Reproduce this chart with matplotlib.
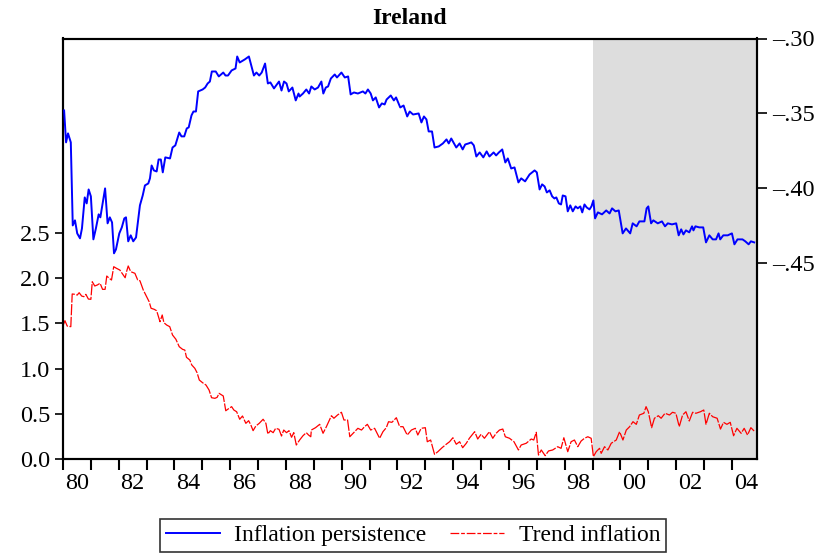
import matplotlib
matplotlib.use("Agg")
import matplotlib.pyplot as plt
from matplotlib.lines import Line2D
from matplotlib.ticker import FixedLocator, NullFormatter, FixedFormatter

plt.rcParams['font.family'] = ['Liberation Serif', 'DejaVu Serif']

# --- data ---
# Inflation persistence (right axis)
persistence_year = [
    1980.04, 1980.11, 1980.18, 1980.28, 1980.35, 1980.43, 1980.51, 1980.61, 1980.68, 1980.78,
    1980.85, 1980.92, 1981.00, 1981.09, 1981.18, 1981.28, 1981.34, 1981.42, 1981.51, 1981.60,
    1981.68, 1981.76, 1981.83, 1981.90, 1982.02, 1982.11, 1982.20, 1982.26, 1982.34, 1982.43,
    1982.52, 1982.62, 1982.76, 1982.86, 1982.94, 1983.06, 1983.12, 1983.18, 1983.26, 1983.36,
    1983.43, 1983.51, 1983.58, 1983.67, 1983.84, 1983.93, 1984.03, 1984.17, 1984.25, 1984.35,
    1984.44, 1984.51, 1984.61, 1984.68, 1984.77, 1984.85, 1985.01, 1985.10, 1985.19, 1985.27,
    1985.34, 1985.48, 1985.59, 1985.75, 1985.83, 1985.92, 1986.05, 1986.19, 1986.25, 1986.34,
    1986.52, 1986.67, 1986.85, 1986.94, 1987.04, 1987.13, 1987.25, 1987.35, 1987.44, 1987.57,
    1987.75, 1987.84, 1987.93, 1988.02, 1988.10, 1988.23, 1988.35, 1988.45, 1988.49, 1988.61,
    1988.73, 1988.83, 1988.91, 1989.03, 1989.15, 1989.27, 1989.34, 1989.43, 1989.51, 1989.61,
    1989.75, 1989.83, 1989.99, 1990.11, 1990.23, 1990.32, 1990.44, 1990.58, 1990.76, 1990.85,
    1990.94, 1991.04, 1991.12, 1991.22, 1991.34, 1991.44, 1991.54, 1991.61, 1991.76, 1991.87,
    1991.95, 1992.10, 1992.22, 1992.35, 1992.44, 1992.56, 1992.76, 1992.86, 1992.95, 1993.04,
    1993.12, 1993.24, 1993.33, 1993.48, 1993.63, 1993.76, 1993.84, 1993.93, 1994.11, 1994.23,
    1994.34, 1994.43, 1994.55, 1994.65, 1994.74, 1994.83, 1994.95, 1995.08, 1995.20, 1995.30,
    1995.45, 1995.54, 1995.64, 1995.76, 1995.87, 1995.96, 1996.08, 1996.20, 1996.34, 1996.44,
    1996.58, 1996.74, 1996.92, 1997.00, 1997.10, 1997.19, 1997.28, 1997.36, 1997.46, 1997.55,
    1997.63, 1997.70, 1997.79, 1997.87, 1997.93, 1998.03, 1998.11, 1998.20, 1998.29, 1998.39,
    1998.47, 1998.56, 1998.63, 1998.71, 1998.79, 1998.89, 1998.96, 1999.03, 1999.09, 1999.19,
    1999.34, 1999.49, 1999.61, 1999.70, 1999.82, 1999.94, 2000.08, 2000.20, 2000.35, 2000.44,
    2000.58, 2000.68, 2000.86, 2000.94, 2001.00, 2001.10, 2001.18, 2001.34, 2001.49, 2001.60,
    2001.70, 2001.85, 2002.00, 2002.09, 2002.18, 2002.26, 2002.35, 2002.47, 2002.57, 2002.62,
    2002.69, 2002.83, 2002.97, 2003.07, 2003.19, 2003.31, 2003.43, 2003.52, 2003.58, 2003.69,
    2003.85, 2004.00, 2004.09, 2004.20, 2004.38, 2004.48, 2004.60, 2004.68, 2004.80,
]
persistence = [
    -.3480, -.3693, -.3633, -.3693, -.4247, -.4213, -.4300, -.4333, -.4267, -.4060,
    -.4100, -.4007, -.4053, -.4340, -.4267, -.4173, -.4193, -.4100, -.4000, -.4233,
    -.4193, -.4227, -.4433, -.4407, -.4300, -.4260, -.4200, -.4193, -.4353, -.4313,
    -.4353, -.4327, -.4113, -.4047, -.3980, -.3967, -.3933, -.3847, -.3880, -.3887,
    -.3807, -.3807, -.3893, -.3793, -.3800, -.3727, -.3713, -.3627, -.3653, -.3653,
    -.3600, -.3593, -.3513, -.3487, -.3487, -.3353, -.3340, -.3327, -.3300, -.3287,
    -.3220, -.3220, -.3253, -.3227, -.3247, -.3247, -.3213, -.3200, -.3120, -.3160,
    -.3140, -.3120, -.3247, -.3227, -.3247, -.3227, -.3167, -.3300, -.3293, -.3333,
    -.3287, -.3347, -.3287, -.3300, -.3353, -.3327, -.3413, -.3367, -.3387, -.3367,
    -.3340, -.3367, -.3320, -.3340, -.3327, -.3287, -.3367, -.3327, -.3320, -.3267,
    -.3240, -.3260, -.3227, -.3260, -.3253, -.3373, -.3360, -.3367, -.3353, -.3367,
    -.3340, -.3367, -.3413, -.3393, -.3460, -.3433, -.3440, -.3407, -.3380, -.3413,
    -.3393, -.3460, -.3447, -.3520, -.3487, -.3507, -.3500, -.3560, -.3520, -.3540,
    -.3620, -.3620, -.3727, -.3720, -.3700, -.3673, -.3700, -.3667, -.3727, -.3700,
    -.3740, -.3707, -.3700, -.3693, -.3713, -.3787, -.3760, -.3793, -.3753, -.3787,
    -.3760, -.3780, -.3760, -.3740, -.3827, -.3800, -.3867, -.3860, -.3960, -.3933,
    -.3953, -.3907, -.3880, -.3893, -.4007, -.3973, -.3987, -.4027, -.4013, -.4053,
    -.4067, -.4060, -.4100, -.4107, -.4047, -.4053, -.4153, -.4113, -.4153, -.4120,
    -.4133, -.4120, -.4160, -.4107, -.4127, -.4140, -.4120, -.4080, -.4200, -.4160,
    -.4173, -.4147, -.4167, -.4133, -.4153, -.4147, -.4300, -.4267, -.4300, -.4233,
    -.4253, -.4220, -.4220, -.4133, -.4120, -.4233, -.4213, -.4233, -.4220, -.4253,
    -.4233, -.4240, -.4233, -.4313, -.4273, -.4307, -.4280, -.4293, -.4253, -.4280,
    -.4253, -.4260, -.4260, -.4360, -.4313, -.4340, -.4340, -.4300, -.4340, -.4313,
    -.4313, -.4300, -.4373, -.4340, -.4340, -.4353, -.4373, -.4353, -.4360,
]

# Trend inflation (left axis)
trend_year = [
    1980.01, 1980.07, 1980.15, 1980.28, 1980.33, 1980.43, 1980.51, 1980.58, 1980.67, 1980.75,
    1980.82, 1980.91, 1981.00, 1981.05, 1981.14, 1981.23, 1981.33, 1981.42, 1981.51, 1981.57,
    1981.66, 1981.74, 1981.82, 1981.92, 1982.04, 1982.16, 1982.23, 1982.28, 1982.34, 1982.43,
    1982.58, 1982.68, 1982.76, 1982.88, 1982.97, 1983.09, 1983.16, 1983.27, 1983.36, 1983.48,
    1983.56, 1983.62, 1983.72, 1983.83, 1983.93, 1984.05, 1984.17, 1984.29, 1984.37, 1984.43,
    1984.55, 1984.62, 1984.73, 1984.81, 1984.89, 1985.01, 1985.13, 1985.24, 1985.33, 1985.45,
    1985.53, 1985.60, 1985.75, 1985.84, 1985.96, 1986.05, 1986.13, 1986.23, 1986.34, 1986.44,
    1986.56, 1986.66, 1986.74, 1986.82, 1986.92, 1987.04, 1987.18, 1987.28, 1987.35, 1987.44,
    1987.54, 1987.63, 1987.75, 1987.84, 1987.92, 1988.02, 1988.11, 1988.20, 1988.28, 1988.37,
    1988.49, 1988.61, 1988.73, 1988.81, 1988.89, 1988.91, 1989.06, 1989.21, 1989.33, 1989.45,
    1989.63, 1989.72, 1989.85, 1989.99, 1990.08, 1990.21, 1990.29, 1990.41, 1990.58, 1990.71,
    1990.82, 1990.92, 1991.04, 1991.18, 1991.36, 1991.48, 1991.60, 1991.68, 1991.80, 1991.96,
    1992.08, 1992.20, 1992.35, 1992.50, 1992.64, 1992.73, 1992.85, 1993.00, 1993.07, 1993.19,
    1993.33, 1993.45, 1993.60, 1993.75, 1993.87, 1993.99, 1994.11, 1994.23, 1994.34, 1994.47,
    1994.58, 1994.77, 1994.88, 1995.00, 1995.12, 1995.30, 1995.42, 1995.54, 1995.66, 1995.78,
    1995.87, 1996.02, 1996.18, 1996.34, 1996.44, 1996.62, 1996.80, 1996.89, 1996.98, 1997.06,
    1997.16, 1997.30, 1997.42, 1997.57, 1997.75, 1997.87, 1997.97, 1998.11, 1998.23, 1998.35,
    1998.47, 1998.59, 1998.71, 1998.83, 1998.95, 1999.03, 1999.13, 1999.25, 1999.31, 1999.43,
    1999.55, 1999.67, 1999.85, 1999.97, 2000.09, 2000.21, 2000.33, 2000.45, 2000.57, 2000.68,
    2000.84, 2000.92, 2001.00, 2001.12, 2001.22, 2001.36, 2001.46, 2001.60, 2001.76, 2001.87,
    2001.99, 2002.11, 2002.23, 2002.35, 2002.47, 2002.59, 2002.71, 2002.87, 2002.99, 2003.07,
    2003.19, 2003.31, 2003.47, 2003.59, 2003.70, 2003.82, 2003.94, 2004.06, 2004.18, 2004.33,
    2004.44, 2004.56, 2004.68, 2004.82,
]
trend = [
    1.482, 1.530, 1.471, 1.464, 1.825, 1.821, 1.813, 1.839, 1.802, 1.795,
    1.821, 1.769, 1.766, 1.960, 1.913, 1.924, 1.943, 1.876, 1.876, 2.023,
    1.998, 1.979, 2.126, 2.108, 2.089, 2.034, 2.004, 2.071, 2.134, 2.071,
    2.053, 1.979, 1.971, 1.869, 1.813, 1.740, 1.667, 1.656, 1.640, 1.519,
    1.593, 1.508, 1.482, 1.464, 1.372, 1.325, 1.243, 1.214, 1.206, 1.126,
    1.096, 1.041, 1.004, 0.956, 0.875, 0.845, 0.820, 0.765, 0.680, 0.673,
    0.684, 0.728, 0.699, 0.536, 0.563, 0.581, 0.544, 0.525, 0.442, 0.478,
    0.397, 0.426, 0.379, 0.316, 0.368, 0.397, 0.442, 0.397, 0.279, 0.316,
    0.294, 0.342, 0.331, 0.257, 0.323, 0.294, 0.316, 0.243, 0.294, 0.158,
    0.213, 0.260, 0.294, 0.268, 0.249, 0.323, 0.349, 0.386, 0.287, 0.360,
    0.481, 0.453, 0.489, 0.519, 0.434, 0.434, 0.249, 0.287, 0.342, 0.323,
    0.360, 0.386, 0.323, 0.342, 0.232, 0.305, 0.349, 0.415, 0.408, 0.459,
    0.360, 0.360, 0.268, 0.323, 0.342, 0.268, 0.342, 0.349, 0.194, 0.213,
    0.055, 0.084, 0.128, 0.166, 0.194, 0.238, 0.166, 0.194, 0.128, 0.177,
    0.232, 0.305, 0.224, 0.276, 0.232, 0.305, 0.232, 0.287, 0.323, 0.334,
    0.249, 0.232, 0.194, 0.103, 0.158, 0.177, 0.224, 0.213, 0.298, 0.047,
    0.103, 0.040, 0.092, 0.103, 0.139, 0.121, 0.238, 0.084, 0.194, 0.213,
    0.139, 0.202, 0.232, 0.249, 0.232, 0.029, 0.084, 0.121, 0.066, 0.139,
    0.103, 0.177, 0.213, 0.305, 0.213, 0.323, 0.360, 0.415, 0.386, 0.489,
    0.508, 0.581, 0.525, 0.349, 0.453, 0.481, 0.453, 0.508, 0.489, 0.519,
    0.508, 0.360, 0.489, 0.525, 0.423, 0.519, 0.508, 0.525, 0.544, 0.386,
    0.508, 0.470, 0.453, 0.334, 0.408, 0.386, 0.408, 0.260, 0.342, 0.287,
    0.342, 0.268, 0.349, 0.305,
]

shade_start = 1999.0
x_start, x_end = 1980.0, 2004.9
left_ticks = [0.0, 0.5, 1.0, 1.5, 2.0, 2.5]
left_labels = ["0.0", "0.5", "1.0", "1.5", "2.0", "2.5"]
right_ticks = [-0.45, -0.40, -0.35, -0.30]
right_labels = ["\u2013.45", "\u2013.40", "\u2013.35", "\u2013.30"]
year_ticks = list(range(1980, 2005))
label_years = list(range(1980, 2005, 2))
year_labels = ["%02d" % (y % 100) for y in label_years]

BLUE = "#0000ff"
RED = "#ff0000"
FS = 17.5

fig = plt.figure(figsize=(8.23, 5.55), dpi=100)
ax = fig.add_axes([63 / 823, 1 - 459.3 / 555, (757 - 63) / 823, (459.3 - 38.5) / 555])
ax2 = ax.twinx()

ax.axvspan(shade_start, x_end, color="#dddddd", lw=0, zorder=0)
ax.plot(trend_year, trend, color=RED, lw=0.9, ls=(0, (9, 1.2)), zorder=2)
ax2.plot(persistence_year, persistence, color=BLUE, lw=1.4, zorder=3)

ax.set_xlim(x_start, x_end)
ax.set_ylim(0.0, 4.645)
ax2.set_ylim(-0.5807, -0.30)

ax.yaxis.set_major_locator(FixedLocator(left_ticks))
ax.yaxis.set_major_formatter(FixedFormatter(left_labels))
ax2.yaxis.set_major_locator(FixedLocator(right_ticks))
ax2.yaxis.set_major_formatter(FixedFormatter(right_labels))

ax.xaxis.set_major_locator(FixedLocator(year_ticks))
ax.xaxis.set_major_formatter(NullFormatter())
ax.xaxis.set_minor_locator(FixedLocator([y + 0.5 for y in label_years]))
ax.xaxis.set_minor_formatter(FixedFormatter(year_labels))

ax.tick_params(axis="x", which="major", direction="out", length=8, width=1.5, color="black")
ax.tick_params(axis="x", which="minor", length=0, labelsize=FS, pad=10)
ax.tick_params(axis="y", direction="out", length=6, width=1.2, labelsize=FS, pad=3)
ax2.tick_params(axis="y", direction="out", length=7, width=1.2, labelsize=FS, pad=4)

for a in (ax, ax2):
    for s in a.spines.values():
        s.set_linewidth(1.5)
        s.set_color("black")

fig.text((63 + 757) / 2 / 823, 1 - 18 / 555, "Ireland", ha="center", va="center",
         fontsize=17, fontweight="bold")

handles = [Line2D([], [], color=BLUE, lw=1.4),
           Line2D([], [], color=RED, lw=0.9, ls=(0, (7, 1.5, 3, 1.5)))]
leg = fig.legend(handles, ["Inflation persistence", "Trend inflation"],
                 loc="center", bbox_to_anchor=(413 / 823, 1 - 535.5 / 555), ncol=2,
                 fontsize=17, frameon=True, fancybox=False, edgecolor="black",
                 handlelength=2.3, handletextpad=0.6, columnspacing=1.0,
                 borderpad=0.25, borderaxespad=0)
leg.get_frame().set_linewidth(1.2)

fig.savefig("out.png", dpi=100)
